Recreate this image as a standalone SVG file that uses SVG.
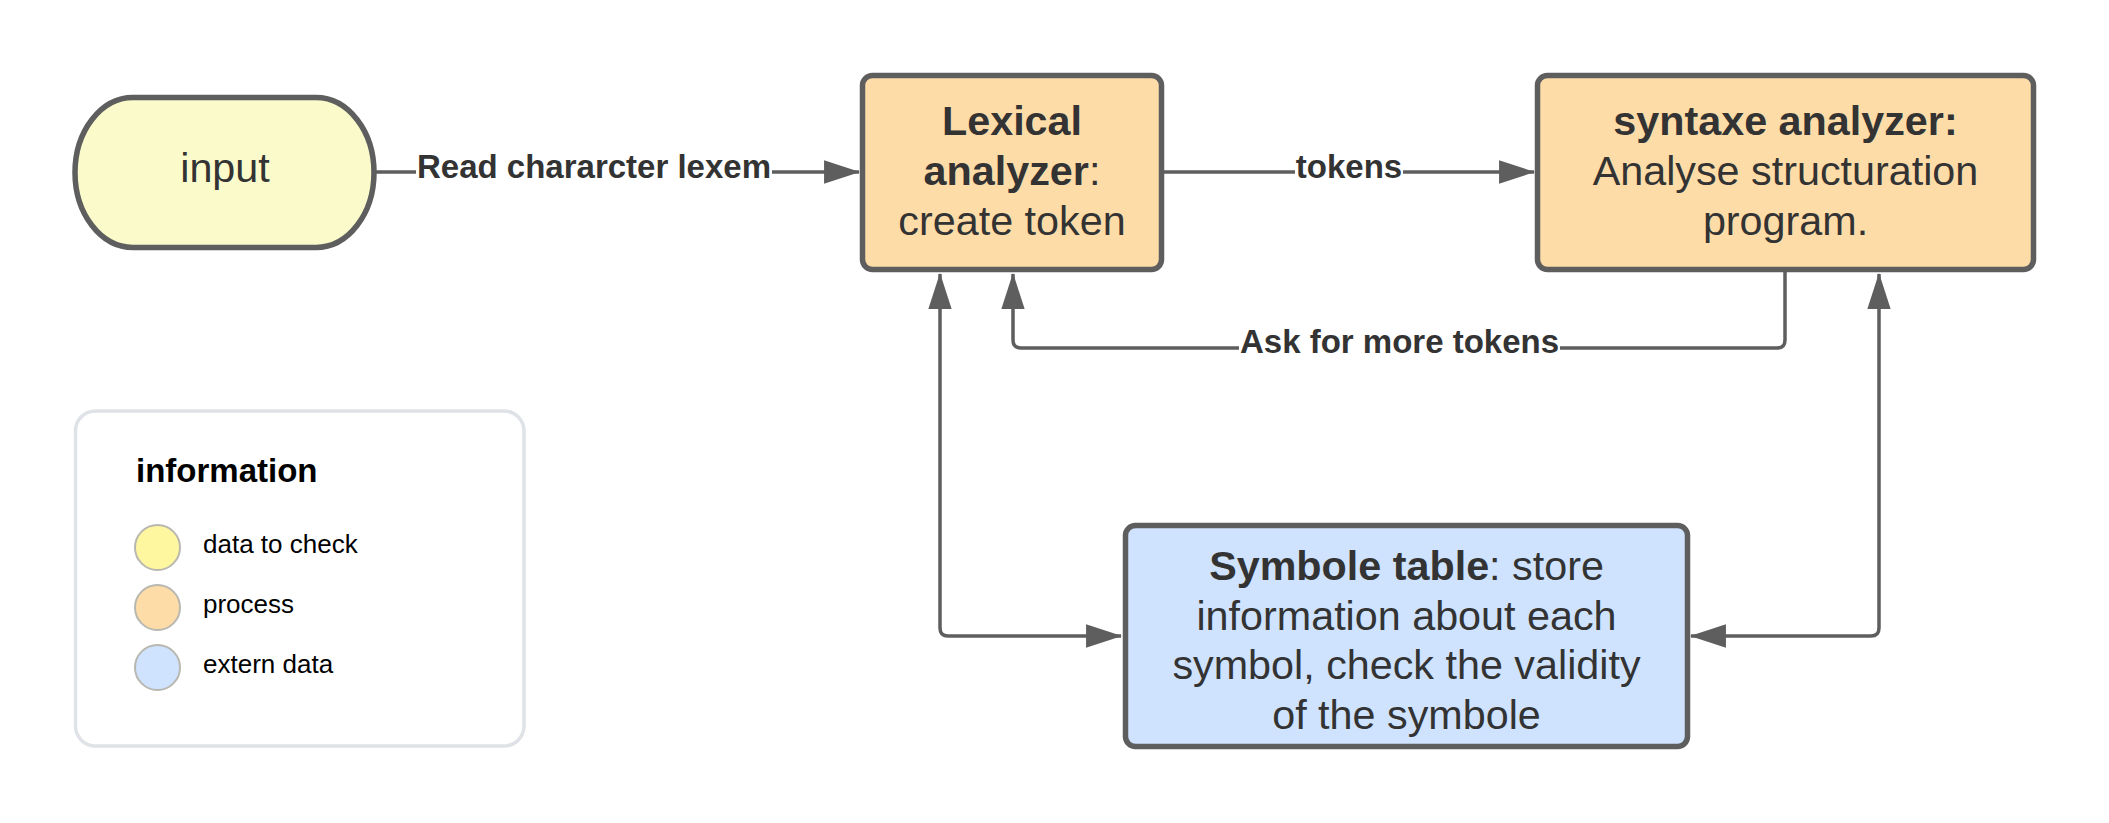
<svg xmlns="http://www.w3.org/2000/svg" width="2109" height="823" viewBox="0 0 2109 823">
<style>
.node{stroke:#5e5e5e;stroke-width:5.5}
.proc{fill:#fedca8}
.t{font-family:"Liberation Sans",Arial,sans-serif;font-size:41.3px;fill:#333333;text-anchor:middle}
.b{font-weight:bold}
.el{font-family:"Liberation Sans",Arial,sans-serif;font-size:33px;font-weight:bold;fill:#333333;text-anchor:middle}
.conn{fill:none;stroke:#5e5e5e;stroke-width:3.5}
.lg{font-family:"Liberation Sans",Arial,sans-serif;font-size:26px;fill:#000000}
.dot{stroke:#b8b8b0;stroke-width:2}
</style>
<defs>
<marker id="arr" markerUnits="userSpaceOnUse" markerWidth="36" markerHeight="24" viewBox="0 0 34 22" refX="33" refY="11" orient="auto-start-reverse">
<path d="M0,0 L34,11 L0,22 z" fill="#5e5e5e"/>
</marker>
</defs>
<rect width="2109" height="823" fill="#ffffff"/>

<g id="connectors">
<path class="conn" d="M376,172 L859,172" marker-end="url(#arr)"/>
<path class="conn" d="M1164,172 L1534,172" marker-end="url(#arr)"/>
<path class="conn" d="M1785,272 L1785,340 Q1785,348 1777,348 L1021,348 Q1013,348 1013,340 L1013,274" marker-end="url(#arr)"/>
<path class="conn" d="M940,274 L940,628 Q940,636 948,636 L1121,636" marker-start="url(#arr)" marker-end="url(#arr)"/>
<path class="conn" d="M1879,274 L1879,628 Q1879,636 1871,636 L1691,636" marker-start="url(#arr)" marker-end="url(#arr)"/>
<rect x="416" y="150" width="356" height="40" fill="#ffffff"/>
<text class="el" x="594" y="178">Read chararcter lexem</text>
<rect x="1295" y="150" width="108" height="40" fill="#ffffff"/>
<text class="el" x="1349" y="178">tokens</text>
<rect x="1239" y="326" width="321" height="40" fill="#ffffff"/>
<text class="el" x="1399.5" y="353">Ask for more tokens</text>
</g>

<g id="input">
<rect class="node" x="75" y="97.5" width="299" height="150" rx="58" ry="75" fill="#fafaca"/>
<text class="t" x="225" y="182">input</text>
</g>

<g id="lexical">
<rect class="node proc" x="862.5" y="75.5" width="299" height="194" rx="10"/>
<text class="t b" x="1012" y="135">Lexical</text>
<text class="t" x="1012" y="185"><tspan class="b">analyzer</tspan>:</text>
<text class="t" x="1012" y="235">create token</text>
</g>

<g id="syntaxe">
<rect class="node proc" x="1537.5" y="75.5" width="496" height="194" rx="10"/>
<text class="t b" x="1785.5" y="135">syntaxe analyzer:</text>
<text class="t" x="1785.5" y="185">Analyse structuration</text>
<text class="t" x="1785.5" y="235">program.</text>
</g>

<g id="symbole">
<rect class="node" x="1125.5" y="525.5" width="562" height="221" rx="10" fill="#cfe3ff"/>
<text class="t" x="1406.5" y="580"><tspan class="b">Symbole table</tspan>: store</text>
<text class="t" x="1406.5" y="629.5">information about each</text>
<text class="t" x="1406.5" y="679">symbol, check the validity</text>
<text class="t" x="1406.5" y="728.5">of the symbole</text>
</g>

<g id="legend">
<rect x="75.5" y="411" width="448.5" height="335" rx="20" fill="#ffffff" stroke="#dfe2e6" stroke-width="3.5"/>
<text x="136" y="482" font-family="Liberation Sans, Arial, sans-serif" font-size="33" font-weight="bold" fill="#000000">information</text>
<circle class="dot" cx="157.5" cy="547.5" r="22.5" fill="#fff7a0"/>
<text class="lg" x="203" y="553">data to check</text>
<circle class="dot" cx="157.5" cy="607.5" r="22.5" fill="#fedca8"/>
<text class="lg" x="203" y="612.5">process</text>
<circle class="dot" cx="157.5" cy="667.5" r="22.5" fill="#cfe3ff"/>
<text class="lg" x="203" y="673">extern data</text>
</g>
</svg>
